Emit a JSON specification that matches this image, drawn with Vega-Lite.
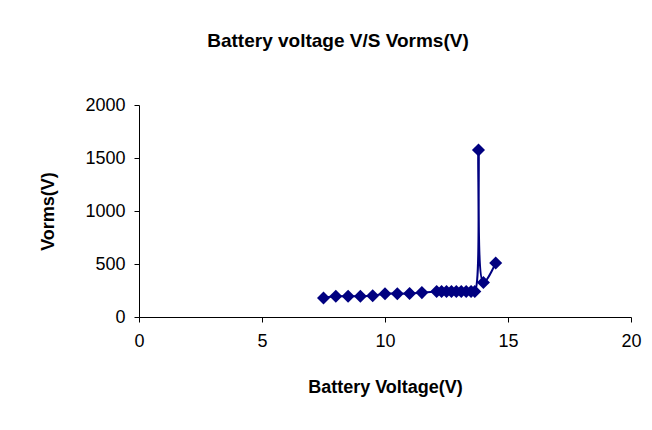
{
  "$schema": "https://vega.github.io/schema/vega-lite/v6.json",
  "width": 492,
  "height": 212,
  "autosize": {"type": "none"},
  "padding": {"left": 139, "top": 105, "right": 21, "bottom": 113},
  "background": "white",
  "title": {
    "text": "Battery voltage V/S Vorms(V)",
    "font": "Liberation Sans",
    "fontSize": 19,
    "fontWeight": "bold",
    "color": "black",
    "anchor": "middle",
    "dx": -47,
    "offset": 45
  },
  "config": {
    "view": {"stroke": null},
    "axis": {
      "domainColor": "black",
      "tickColor": "black",
      "domainWidth": 1,
      "tickWidth": 1,
      "grid": false,
      "labelFont": "Liberation Sans",
      "labelFontSize": 18,
      "labelColor": "black",
      "titleFont": "Liberation Sans",
      "titleFontSize": 18,
      "titleFontWeight": "bold",
      "titleColor": "black",
      "tickSize": 5
    }
  },
  "data": {
    "values": [
      {"order": 1, "battery": 7.5, "vorms": 180},
      {"order": 2, "battery": 8.0, "vorms": 195},
      {"order": 3, "battery": 8.5, "vorms": 195},
      {"order": 4, "battery": 9.0, "vorms": 195},
      {"order": 5, "battery": 9.5, "vorms": 200},
      {"order": 6, "battery": 10.0, "vorms": 220},
      {"order": 7, "battery": 10.5, "vorms": 220},
      {"order": 8, "battery": 11.0, "vorms": 222},
      {"order": 9, "battery": 11.5, "vorms": 230},
      {"order": 10, "battery": 12.1, "vorms": 240},
      {"order": 11, "battery": 12.3, "vorms": 240},
      {"order": 12, "battery": 12.5, "vorms": 240},
      {"order": 13, "battery": 12.7, "vorms": 240},
      {"order": 14, "battery": 12.9, "vorms": 240},
      {"order": 15, "battery": 13.1, "vorms": 240},
      {"order": 16, "battery": 13.3, "vorms": 240},
      {"order": 17, "battery": 13.5, "vorms": 240},
      {"order": 18, "battery": 13.65, "vorms": 240},
      {"order": 19, "battery": 13.8, "vorms": 1575},
      {"order": 20, "battery": 14.0, "vorms": 325},
      {"order": 21, "battery": 14.5, "vorms": 510}
    ]
  },
  "encoding": {
    "x": {
      "field": "battery",
      "type": "quantitative",
      "scale": {"domain": [0, 20], "nice": false, "zero": false},
      "axis": {"values": [0, 5, 10, 15, 20], "format": "d", "title": "Battery Voltage(V)", "labelPadding": 10, "titlePadding": 28, "labelFlush": false}
    },
    "y": {
      "field": "vorms",
      "type": "quantitative",
      "scale": {"domain": [0, 2000], "nice": false},
      "axis": {"values": [0, 500, 1000, 1500, 2000], "format": "d", "title": "Vorms(V)", "labelPadding": 9, "titlePadding": 27, "labelFlush": false}
    },
    "order": {"field": "order", "type": "quantitative"}
  },
  "layer": [
    {
      "mark": {"type": "line", "interpolate": "catmull-rom", "color": "#000080", "strokeWidth": 2}
    },
    {
      "mark": {"type": "point", "shape": "diamond", "filled": true, "size": 170, "color": "#000080", "opacity": 1}
    }
  ]
}
